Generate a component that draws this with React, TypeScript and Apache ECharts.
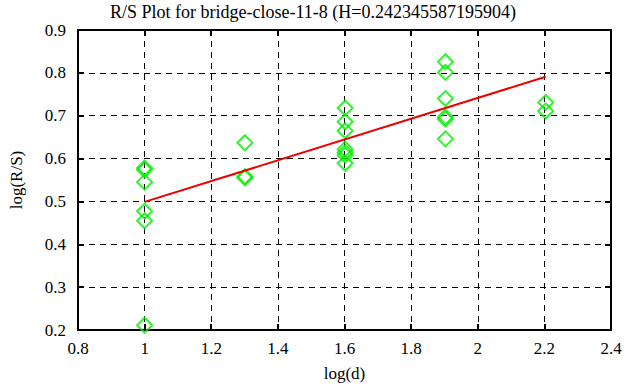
import React, { useEffect, useRef } from "react";
import * as echarts from "echarts";

const titleText = "R/S Plot for bridge-close-11-8 (H=0.242345587195904)";
const logD = [
  1, 1, 1, 1, 1, 1,
  1.301, 1.301, 1.301,
  1.602, 1.602, 1.602, 1.602, 1.602, 1.602, 1.602,
  1.903, 1.903, 1.903, 1.903, 1.903, 1.903,
  2.204, 2.204,
];
const logRS = [
  0.578, 0.574, 0.545, 0.477, 0.455, 0.211,
  0.637, 0.558, 0.555,
  0.718, 0.686, 0.665, 0.622, 0.614, 0.608, 0.589,
  0.826, 0.801, 0.740, 0.697, 0.692, 0.646,
  0.731, 0.711,
];
const fitX = [1, 2.204];
const fitY = [0.499, 0.791];

const FONT = "Liberation Serif";

export default function App() {
  const ref = useRef<HTMLDivElement>(null);
  useEffect(() => {
    if (!ref.current) return;
    const chart = echarts.init(ref.current, null, { renderer: "svg" });
    const gridLine = { show: true, lineStyle: { color: "#000", type: [6, 5], width: 1 } };
    const axisLine = { show: true, lineStyle: { color: "#000", width: 2 } };
    const tick = { show: true, inside: true, length: 6, lineStyle: { color: "#000", width: 2 } };
    chart.setOption({
      animation: false,
      backgroundColor: "#fff",
      title: {
        text: titleText,
        left: "center",
        top: -2,
        textStyle: { fontFamily: FONT, fontSize: 18, fontWeight: "normal", color: "#000" },
      },
      grid: { left: 72, right: 15, top: 30, bottom: 56, containLabel: false },
      xAxis: [
        {
          type: "value",
          min: 0.8,
          max: 2.4,
          interval: 0.2,
          name: "log(d)",
          nameLocation: "middle",
          nameGap: 35,
          nameTextStyle: { fontFamily: FONT, fontSize: 17, color: "#000" },
          axisLine,
          axisTick: tick,
          splitLine: gridLine,
          axisLabel: {
            fontFamily: FONT,
            fontSize: 17,
            color: "#000",
            margin: 10,
            formatter: (v: number) => String(Math.round(v * 10) / 10),
          },
        },
        {
          type: "value",
          position: "top",
          min: 0.8,
          max: 2.4,
          interval: 0.2,
          axisLine,
          axisTick: tick,
          splitLine: { show: false },
          axisLabel: { show: false },
        },
      ],
      yAxis: [
        {
          type: "value",
          min: 0.2,
          max: 0.9,
          interval: 0.1,
          name: "log(R/S)",
          nameLocation: "middle",
          nameGap: 53,
          nameTextStyle: { fontFamily: FONT, fontSize: 17, color: "#000" },
          axisLine,
          axisTick: tick,
          splitLine: gridLine,
          axisLabel: {
            fontFamily: FONT,
            fontSize: 17,
            color: "#000",
            margin: 12,
            formatter: (v: number) => (Math.round(v * 10) / 10).toFixed(1),
          },
        },
        {
          type: "value",
          position: "right",
          min: 0.2,
          max: 0.9,
          interval: 0.1,
          axisLine,
          axisTick: tick,
          splitLine: { show: false },
          axisLabel: { show: false },
        },
      ],
      series: [
        {
          type: "scatter",
          data: logD.map((x, i) => [x, logRS[i]]),
          symbol: "diamond",
          symbolSize: 15,
          itemStyle: { color: "rgba(0,0,0,0)", borderColor: "#00ee00", borderWidth: 2 },
          z: 3,
        },
        {
          type: "line",
          data: fitX.map((x, i) => [x, fitY[i]]),
          showSymbol: false,
          symbol: "none",
          lineStyle: { color: "#ee0000", width: 2 },
          z: 4,
        },
      ],
    });
    return () => chart.dispose();
  }, []);
  return <div ref={ref} style={{ width: 626, height: 387, position: "absolute", left: 0, top: 0 }} />;
}
